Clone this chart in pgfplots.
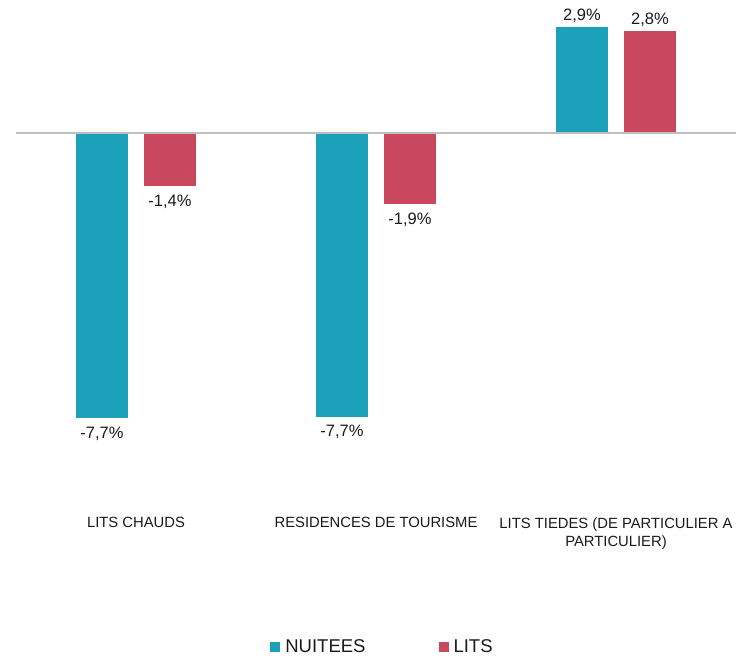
\documentclass[border=0pt]{standalone}
\usepackage{pgfplots}
\pgfplotsset{compat=1.18}
\usepackage{fontspec}
\setmainfont{Liberation Sans}
\definecolor{cyanbar}{HTML}{1BA1BA}
\definecolor{redbar}{HTML}{C9485F}
\definecolor{txt}{HTML}{1A1A1A}
\definecolor{zline}{HTML}{BFBFBF}
\begin{document}
\begin{tikzpicture}
\path[use as bounding box] (0,0) rectangle (756pt,-657pt);
\begin{axis}[
  at={(16pt,-503pt)}, anchor=south west,
  scale only axis, width=720pt, height=492.1pt,
  xmin=-0.5, xmax=2.5, ymin=-10, ymax=3.3,
  ybar, bar width=53pt,
  axis line style={draw=none},
  ytick=\empty,
  xtick={0,1,2}, major tick length=0pt,
  xticklabels={LITS CHAUDS, RESIDENCES DE TOURISME, {LITS TIEDES (DE PARTICULIER A\\PARTICULIER)}},
  xticklabel style={font=\fontsize{14.8}{18.5}\selectfont, align=center, color=txt, yshift=-11pt},
  point meta=explicit symbolic,
  visualization depends on={rawy \as \rawy},
  nodes near coords,
  every node near coord/.append style={font=\fontsize{16.5}{19}\selectfont, color=txt,
    /utils/exec={\ifdim\rawy pt<0pt \def\myanc{north}\def\mysh{-4.5pt}\else\def\myanc{south}\def\mysh{0pt}\fi},
    anchor=\myanc, yshift=\mysh},
  legend columns=2,
  legend style={draw=none, fill=none, at={(0.5076,-0.2926)}, anchor=center,
    font=\fontsize{18.5}{22}\selectfont, text=txt, inner sep=0pt,
    nodes={inner sep=0pt, anchor=west},
    /tikz/every odd column/.append style={column sep=5pt},
    /tikz/every even column/.append style={column sep=73pt}},
  legend image code/.code={\fill[#1, draw=none] (0pt,-5pt) rectangle (10pt,5pt);},
  clip=false,
]
\addplot[fill=cyanbar, draw=white, line width=0.5pt, bar shift=-34pt]
  coordinates {(0,-7.72) [{-7,7\%}] (1,-7.67) [{-7,7\%}] (2,2.89) [{2,9\%}]};
\addplot[fill=redbar, draw=white, line width=0.5pt, bar shift=34pt]
  coordinates {(0,-1.45) [{-1,4\%}] (1,-1.93) [{-1,9\%}] (2,2.78) [{2,8\%}]};
\legend{NUITEES, LITS}
\draw[zline, line width=1.2pt] (axis cs:-0.5,0) -- (axis cs:2.5,0);
\end{axis}
\end{tikzpicture}
\end{document}
